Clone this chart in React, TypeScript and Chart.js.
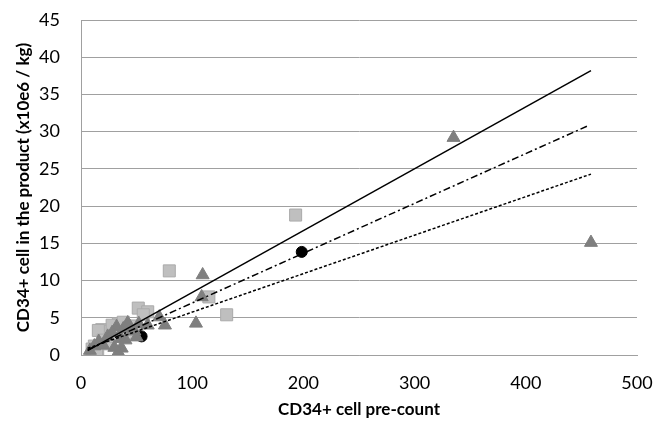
import React, { useEffect, useRef } from "react";
import { Chart, registerables } from "chart.js";

Chart.register(...registerables);

const xTicks = [0, 100, 200, 300, 400, 500];
const yTicks = [0, 5, 10, 15, 20, 25, 30, 35, 40, 45];

const squareX = [193, 79.4, 115, 131, 51.5, 60, 56, 33.6, 18.6, 23, 15.6, 28, 38, 45, 40, 12, 15, 20, 10, 25, 30, 48, 14];
const squareY = [18.8, 11.3, 7.8, 5.4, 6.3, 5.8, 5.4, 4.2, 3.4, 3.2, 3.3, 4.0, 4.4, 3.9, 2.8, 1.2, 0.5, 2.0, 0.8, 1.5, 2.5, 3.0, 0.2];

const triX = [335, 458.6, 109.4, 108.5, 103.4, 75.5, 70.4, 44, 32, 36.6, 33.5, 8, 12, 16, 20, 24, 28, 36, 40, 48, 52, 38, 30, 42, 60, 50];
const triY = [29.2, 15.1, 10.75, 7.8, 4.25, 4.0, 5.1, 3.8, 3.8, 0.9, 0.4, 0.6, 1.2, 1.8, 1.3, 2.5, 3.0, 2.2, 2.0, 3.2, 4.2, 3.5, 1.0, 4.3, 4.0, 2.4];

const circleX = [198.5, 54.5];
const circleY = [13.85, 2.5];

const solidX = [6, 458.6];
const solidY = [0.6, 38.2];
const dashDotX = [6, 456];
const dashDotY = [0.7, 30.8];
const dashedX = [6, 458.6];
const dashedY = [0.9, 24.3];

const pts = (xs: number[], ys: number[]) => xs.map((x, i) => ({ x, y: ys[i] }));

const FONT = "Lato";

const zeroPad = (s: any) => {
  s.paddingTop = 0;
  s.paddingBottom = 0;
  s.paddingLeft = 0;
  s.paddingRight = 0;
};

export default function App() {
  const ref = useRef<HTMLCanvasElement | null>(null);

  useEffect(() => {
    if (!ref.current) return;
    const chart = new Chart(ref.current, {
      type: "scatter",
      data: {
        datasets: [
          {
            label: "solid",
            type: "line",
            data: pts(solidX, solidY),
            borderColor: "#000",
            borderWidth: 1.5,
            pointRadius: 0,
            fill: false,
            order: 1,
          },
          {
            label: "dashdot",
            type: "line",
            data: pts(dashDotX, dashDotY),
            borderColor: "#000",
            borderWidth: 1.5,
            borderDash: [7, 3, 2, 3],
            pointRadius: 0,
            fill: false,
            order: 2,
          },
          {
            label: "dashed",
            type: "line",
            data: pts(dashedX, dashedY),
            borderColor: "#000",
            borderWidth: 1.5,
            borderDash: [3, 2],
            pointRadius: 0,
            fill: false,
            order: 3,
          },
          {
            label: "triangles",
            data: pts(triX, triY),
            pointStyle: "triangle",
            pointRadius: 7.5,
            backgroundColor: "#7f7f7f",
            borderColor: "#7f7f7f",
            borderWidth: 1,
            order: 4,
          },
          {
            label: "circles",
            data: pts(circleX, circleY),
            pointStyle: "circle",
            pointRadius: 5.5,
            backgroundColor: "#000",
            borderColor: "#000",
            borderWidth: 1,
            order: 5,
          },
          {
            label: "squares",
            data: pts(squareX, squareY),
            pointStyle: "rect",
            pointRadius: 8.5,
            backgroundColor: "#bfbfbf",
            borderColor: "#aaaaaa",
            borderWidth: 1,
            order: 6,
          },
        ],
      },
      options: {
        responsive: false,
        animation: false,
        layout: { padding: { left: 0, right: 17, top: 20, bottom: 0 } },
        plugins: {
          legend: { display: false },
          tooltip: { enabled: false },
        },
        scales: {
          x: {
            type: "linear",
            min: xTicks[0],
            max: xTicks[xTicks.length - 1],
            afterBuildTicks: (s: any) => {
              s.ticks = xTicks.map((v) => ({ value: v }));
            },
            afterFit: (s: any) => {
              s.height = 67;
              zeroPad(s);
            },
            grid: { display: false, drawTicks: false },
            border: { display: true, color: "#a0a0a0", width: 1 },
            ticks: {
              color: "#000",
              font: { family: FONT, size: 18 },
              padding: 17,
              maxRotation: 0,
            },
            title: {
              display: true,
              text: "CD34+ cell pre-count",
              color: "#000",
              font: { family: FONT, size: 17, weight: "bold" },
              padding: { top: 4, bottom: 2 },
            },
          },
          y: {
            type: "linear",
            min: yTicks[0],
            max: yTicks[yTicks.length - 1],
            afterBuildTicks: (s: any) => {
              s.ticks = yTicks.map((v) => ({ value: v }));
            },
            afterFit: (s: any) => {
              s.width = 81;
              zeroPad(s);
            },
            grid: { display: true, color: "#a0a0a0", lineWidth: 1, drawTicks: false },
            border: { display: true, color: "#a0a0a0", width: 1 },
            ticks: {
              color: "#000",
              font: { family: FONT, size: 18 },
              padding: 21,
            },
            title: {
              display: true,
              text: "CD34+ cell in the product (x10e6 / kg)",
              color: "#000",
              font: { family: FONT, size: 17, weight: "bold" },
              padding: { top: 13, bottom: 0 },
            },
          },
        },
      },
    } as any);
    return () => chart.destroy();
  }, []);

  return (
    <div style={{ position: "absolute", left: 0, top: 0, width: 654, height: 422 }}>
      <canvas ref={ref} width={654} height={422} style={{ width: 654, height: 422 }} />
    </div>
  );
}
